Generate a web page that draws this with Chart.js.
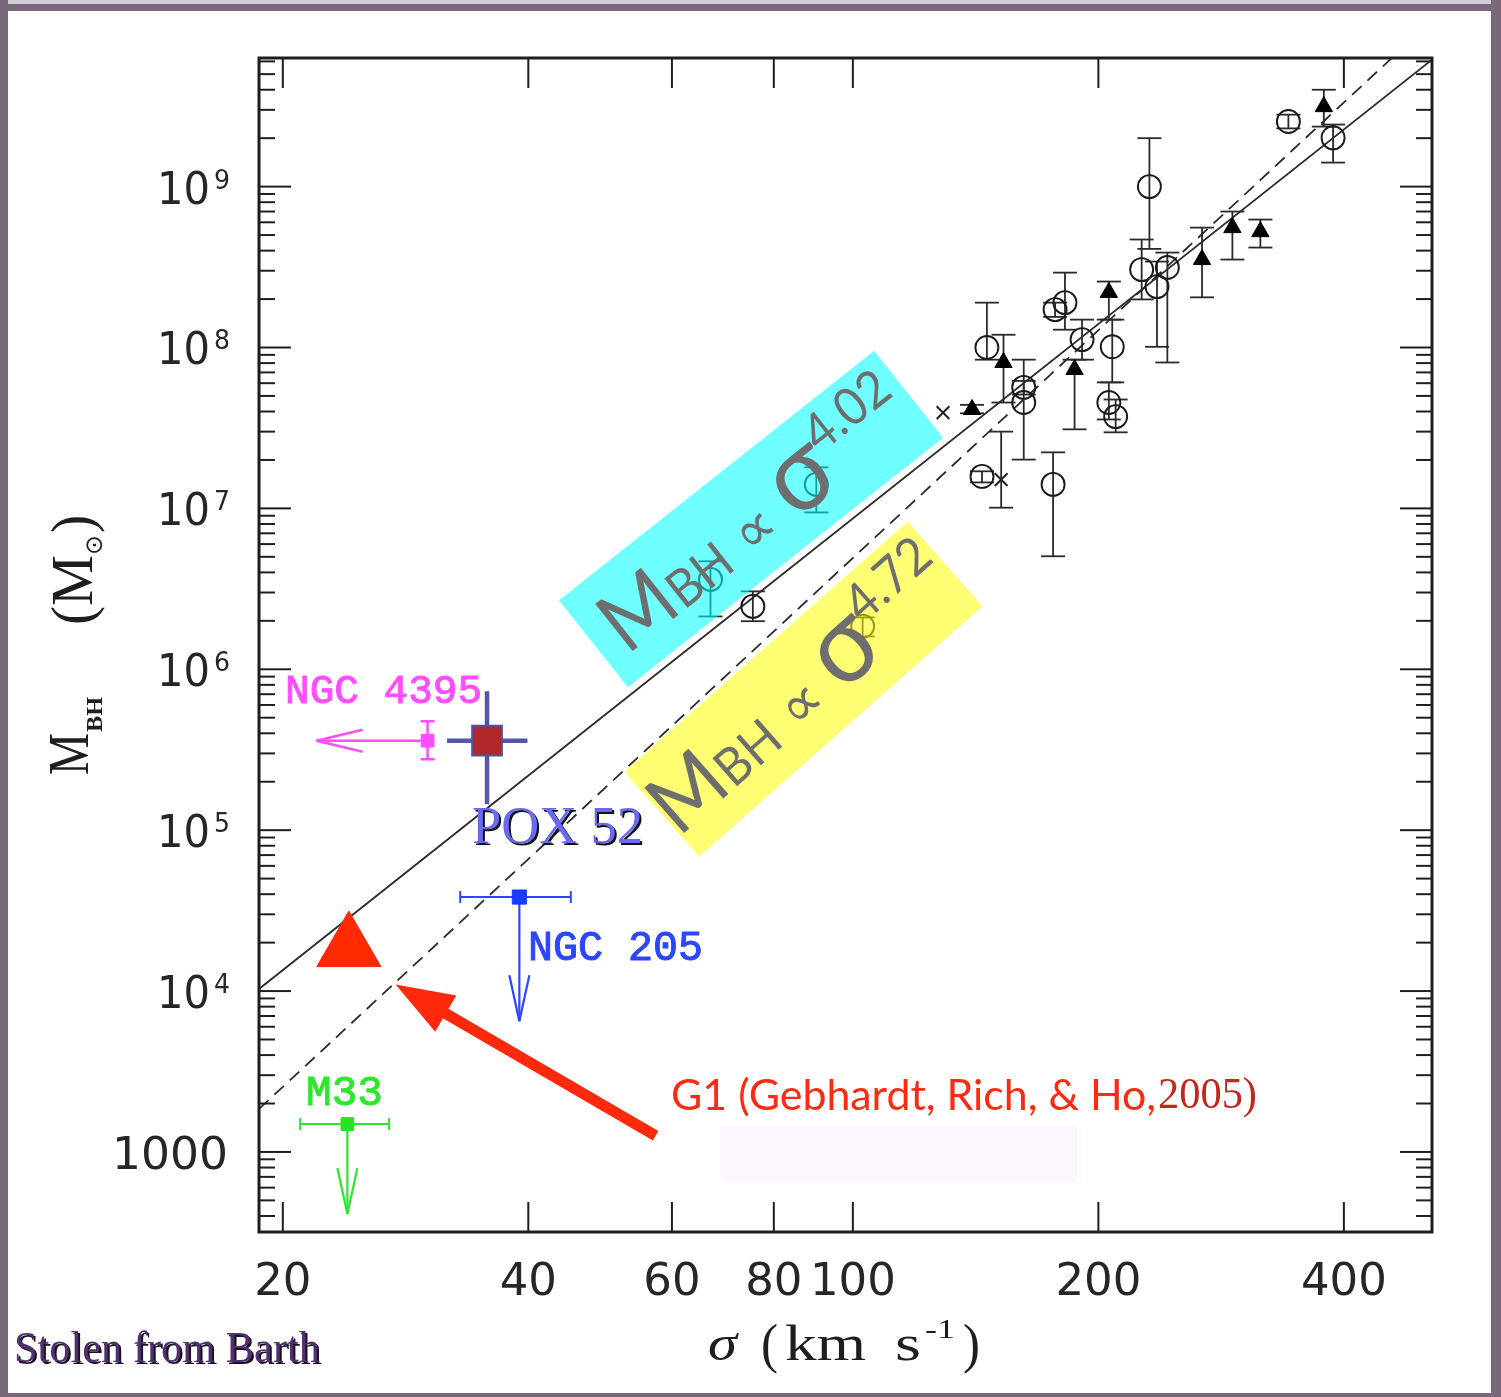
<!DOCTYPE html>
<html lang="en">
<head>
<meta charset="UTF-8">
<title>M-sigma relation</title>
<script src="https://cdn.jsdelivr.net/npm/chart.js@4.4.1/dist/chart.umd.min.js"></script>
<style>
  html, body { margin: 0; padding: 0; background: #fff; }
  canvas { display: block; }
</style>
</head>
<body>
<canvas id="msigma" width="1501" height="1397"></canvas>
<script>
// sigma in km/s, black hole mass in solar masses

// open circles
const circSigma = [342, 388, 231, 226, 236, 243, 182, 177, 191, 146, 208, 162, 162, 206, 210, 144, 176, 90.2, 66.9, 75.4, 102.8];
const circMass  = [2.54e9, 2.01e9, 1.0e9, 3.05e8, 2.39e8, 3.14e8, 1.9e8, 1.72e8, 1.12e8, 1.0e8, 1.01e8, 5.65e7, 4.55e7, 4.55e7, 3.72e7, 1.58e7, 1.41e7, 1.41e7, 3.62e6, 2.46e6, 1.85e6];
const circLo    = [2.3e9, 1.41e9, 4.1e8, 1.99e8, 1.01e8, 8.07e7, 1.29e8, 1.55e8, 8.4e7, 8.4e7, 6.07e7, 5.1e7, 2.01e7, 3.57e7, 2.97e7, 1.45e7, 5.04e6, 9.44e6, 2.13e6, 1.99e6, 1.6e6];
const circHi    = [2.8e9, 2.43e9, 2.0e9, 4.69e8, 3.42e8, 3.89e8, 2.92e8, 1.9e8, 1.49e8, 1.9e8, 1.49e8, 6.2e7, 8.4e7, 6.07e7, 4.75e7, 1.7e7, 2.23e7, 1.8e7, 4.69e6, 3.05e6, 2.1e6];

// filled triangles
const triSigma = [378, 292, 316, 268, 206, 153, 187, 140];
const triMass  = [3.14e9, 5.56e8, 5.25e8, 3.52e8, 2.2e8, 8.07e7, 7.3e7, 4.12e7];
const triLo    = [2.36e9, 3.52e8, 4.18e8, 2.05e8, 1.49e8, 4.55e7, 3.1e7, 3.9e7];
const triHi    = [4.0e9, 7.0e8, 6.24e8, 5.56e8, 2.57e8, 1.2e8, 8.4e7, 4.4e7];

// crosses
const crossSigma = [129, 152];
const crossMass  = [3.94e7, 1.51e7];
const crossLo    = [3.94e7, 1.01e7];
const crossHi    = [3.94e7, 3.0e7];

// fit lines (end points)
const solidSigma = [18.7, 513];
const solidMass  = [1.03e4, 6.15e9];
const dashSigma  = [18.7, 458];
const dashMass   = [1850, 6.3e9];

// low-mass objects
const ngc4395 = { sigma: 30.1, mass: 3.6e5, massLo: 2.76e5, massHi: 4.75e5, sigmaLimit: 22.0 };
const pox52   = { sigma: 35.6, mass: 3.6e5, sigmaLo: 31.8, sigmaHi: 39.9, massLo: 1.45e5, massHi: 7.3e5 };
const ngc205  = { sigma: 39.0, mass: 3.84e4, sigmaLo: 33.0, sigmaHi: 45.1, massLimit: 6.5e3 };
const m33     = { sigma: 24.0, mass: 1.49e3, sigmaLo: 21.0, sigmaHi: 27.0, massLimit: 412 };
const g1      = { sigma: 24.1, mass: 1.85e4 };
const g1PointerSigma = [57.3, 27.5];
const g1PointerMass  = [1.26e3, 1.10e4];

// axes
const sigmaTicks = [20, 40, 60, 80, 100, 200, 400];
const massMajor  = [1e3, 1e4, 1e5, 1e6, 1e7, 1e8, 1e9];
const massBase   = ['1000', '10', '10', '10', '10', '10', '10'];
const massExp    = ['', '4', '5', '6', '7', '8', '9'];

function pts(xs, ys) { return xs.map((x, i) => ({ x: x, y: ys[i] })); }

function fitText(ctx, str, x, y, w, font, color, stroke) {
  ctx.save();
  ctx.font = font;
  ctx.fillStyle = color;
  ctx.textBaseline = 'alphabetic';
  const m = ctx.measureText(str).width;
  ctx.translate(x, y);
  ctx.scale(w / m, 1);
  ctx.fillText(str, 0, 0);
  if (stroke) {
    ctx.strokeStyle = color;
    ctx.lineWidth = stroke;
    ctx.strokeText(str, 0, 0);
  }
  ctx.restore();
}

function seg(ctx, x1, y1, x2, y2) {
  ctx.beginPath(); ctx.moveTo(x1, y1); ctx.lineTo(x2, y2); ctx.stroke();
}

function vBars(ctx, xs, ys, sig, lo, hi, cap) {
  sig.forEach((s, i) => {
    if (lo[i] === hi[i]) return;
    const x = xs.getPixelForValue(s);
    const a = ys.getPixelForValue(lo[i]), b = ys.getPixelForValue(hi[i]);
    seg(ctx, x, a, x, b);
    seg(ctx, x - cap, a, x + cap, a);
    seg(ctx, x - cap, b, x + cap, b);
  });
}

// rotated highlight with the power-law label
function tagBox(ctx, b) {
  ctx.save();
  ctx.translate(b.cx, b.cy);
  ctx.rotate(b.angle);
  ctx.fillStyle = b.fill;
  ctx.fillRect(-b.len / 2, -b.wid / 2, b.len, b.wid);
  const parts = [
    { t: 'M', f: '84px Lato', dy: 0 },
    { t: 'BH', f: '52px Lato', dy: 0 },
    { t: ' \u221D ', f: '60px "DejaVu Sans"', dy: 0 },
    { t: '\u03C3', f: '108px Lato', dy: 0 },
    { t: b.expo, f: '52px Lato', dy: -38 }
  ];
  let total = 0;
  parts.forEach(p => { ctx.font = p.f; p.w = ctx.measureText(p.t).width; total += p.w; });
  const k = (b.x1 - b.x0) / total;
  ctx.translate(b.x0, b.base);
  ctx.scale(k, 1);
  ctx.fillStyle = '#6e6e6e';
  let x = 0;
  parts.forEach(p => { ctx.font = p.f; ctx.fillText(p.t, x, p.dy); x += p.w; });
  ctx.restore();
}

const drawing = {
  id: 'drawing',
  beforeDraw(chart) {
    const ctx = chart.ctx, W = chart.width, H = chart.height;
    ctx.save();
    ctx.fillStyle = '#ffffff';
    ctx.fillRect(0, 0, W, H);
    ctx.fillStyle = '#d2ced6';
    ctx.fillRect(0, 0, W, 4);
    ctx.fillStyle = '#786879';
    ctx.fillRect(0, 4, W, 7);
    ctx.fillRect(0, 0, 8, H);
    ctx.fillRect(W - 10, 0, 10, H);
    ctx.fillRect(0, H - 4, W, 4);
    // faint panel under the citation
    ctx.fillStyle = '#fcf7fc';
    ctx.fillRect(721, 1126, 356, 56);
    ctx.restore();
  },
  beforeDatasetsDraw(chart) {
    const ctx = chart.ctx, xs = chart.scales.x, ys = chart.scales.y, ca = chart.chartArea;
    ctx.save();
    ctx.beginPath();
    ctx.rect(ca.left, ca.top, ca.right - ca.left, ca.bottom - ca.top);
    ctx.clip();
    ctx.strokeStyle = '#2a2a2a';
    ctx.lineWidth = 1.8;
    vBars(ctx, xs, ys, circSigma, circLo, circHi, 12);
    vBars(ctx, xs, ys, triSigma, triLo, triHi, 12);
    vBars(ctx, xs, ys, crossSigma, crossLo, crossHi, 12);

    // NGC 4395: mass bar and upper limit on sigma
    let x = xs.getPixelForValue(ngc4395.sigma), y = ys.getPixelForValue(ngc4395.mass);
    ctx.strokeStyle = '#ff4dff';
    ctx.lineWidth = 2.5;
    vBars(ctx, xs, ys, [ngc4395.sigma], [ngc4395.massLo], [ngc4395.massHi], 7);
    let tip = xs.getPixelForValue(ngc4395.sigmaLimit);
    seg(ctx, x, y, tip, y);
    seg(ctx, tip, y, tip + 46, y - 11);
    seg(ctx, tip, y, tip + 46, y + 11);

    // POX 52 cross
    x = xs.getPixelForValue(pox52.sigma); y = ys.getPixelForValue(pox52.mass);
    ctx.strokeStyle = '#5656a8';
    ctx.lineWidth = 4.5;
    seg(ctx, xs.getPixelForValue(pox52.sigmaLo), y, xs.getPixelForValue(pox52.sigmaHi), y);
    seg(ctx, x, ys.getPixelForValue(pox52.massLo), x, ys.getPixelForValue(pox52.massHi));

    // NGC 205 and M33: sigma bars with upper limits on mass
    [[ngc205, '#2a46ff'], [m33, '#2ee62e']].forEach(([o, c]) => {
      const px = xs.getPixelForValue(o.sigma), py = ys.getPixelForValue(o.mass);
      const l = xs.getPixelForValue(o.sigmaLo), r = xs.getPixelForValue(o.sigmaHi);
      ctx.strokeStyle = c;
      ctx.lineWidth = 2;
      seg(ctx, l, py, r, py);
      seg(ctx, l, py - 6, l, py + 6);
      seg(ctx, r, py - 6, r, py + 6);
      const t = ys.getPixelForValue(o.massLimit);
      ctx.lineWidth = 2.2;
      seg(ctx, px, py, px, t);
      seg(ctx, px, t, px - 10, t - 46);
      seg(ctx, px, t, px + 10, t - 46);
    });
    ctx.restore();
  },
  afterDatasetsDraw(chart) {
    const ctx = chart.ctx, xs = chart.scales.x, ys = chart.scales.y, ca = chart.chartArea;
    ctx.save();

    // G1 pointer arrow
    const ax = xs.getPixelForValue(g1PointerSigma[0]), ay = ys.getPixelForValue(g1PointerMass[0]);
    const bx = xs.getPixelForValue(g1PointerSigma[1]), by = ys.getPixelForValue(g1PointerMass[1]);
    const ang = Math.atan2(by - ay, bx - ax);
    ctx.strokeStyle = '#ff2a0e';
    ctx.fillStyle = '#ff2a0e';
    ctx.lineWidth = 11;
    ctx.lineCap = 'butt';
    seg(ctx, ax, ay, bx - 40 * Math.cos(ang), by - 40 * Math.sin(ang));
    ctx.beginPath();
    ctx.moveTo(bx, by);
    ctx.lineTo(bx - 58 * Math.cos(ang) + 21 * Math.sin(ang), by - 58 * Math.sin(ang) - 21 * Math.cos(ang));
    ctx.lineTo(bx - 58 * Math.cos(ang) - 21 * Math.sin(ang), by - 58 * Math.sin(ang) + 21 * Math.cos(ang));
    ctx.closePath();
    ctx.fill();

    // highlighted power laws
    tagBox(ctx, { cx: 751, cy: 519, len: 402, wid: 111, angle: -0.670, fill: 'rgba(0,255,255,0.56)',
                  expo: '4.02', x0: -182, x1: 190, base: 30 });
    tagBox(ctx, { cx: 803.5, cy: 689, len: 378, wid: 113, angle: -0.7234, fill: 'rgba(255,255,0,0.55)',
                  expo: '4.72', x0: -192, x1: 184, base: 29 });

    // frame
    ctx.strokeStyle = '#1e1e1e';
    ctx.lineWidth = 3;
    ctx.strokeRect(ca.left, ca.top, ca.right - ca.left, ca.bottom - ca.top);
    ctx.lineWidth = 2;
    sigmaTicks.forEach(s => {
      const x = xs.getPixelForValue(s);
      seg(ctx, x, ca.bottom, x, ca.bottom - 30);
      seg(ctx, x, ca.top, x, ca.top + 30);
    });
    for (let d = 2; d <= 9; d++) {
      for (let k = 1; k <= 9; k++) {
        const v = k * Math.pow(10, d);
        if (v < ys.min || v > ys.max) continue;
        const y = ys.getPixelForValue(v), len = k === 1 ? 32 : 16;
        seg(ctx, ca.left, y, ca.left + len, y);
        seg(ctx, ca.right, y, ca.right - len, y);
      }
    }

    // tick labels
    ctx.fillStyle = '#1e1e1e';
    ctx.textBaseline = 'alphabetic';
    massMajor.forEach((v, i) => {
      const y = ys.getPixelForValue(v);
      if (massExp[i] === '') {
        fitText(ctx, massBase[i], 112, y + 17, 116, '45px "DejaVu Sans"', '#262626');
      } else {
        fitText(ctx, massExp[i], 214, y + 2, 16, '27px "DejaVu Sans"', '#262626');
        fitText(ctx, massBase[i], 157, y + 17, 53, '45px "DejaVu Sans"', '#262626');
      }
    });
    ctx.font = '45px "DejaVu Sans"';
    ctx.fillStyle = '#262626';
    ctx.textAlign = 'center';
    sigmaTicks.forEach(s => {
      ctx.fillText(String(s), xs.getPixelForValue(s), 1295);
    });
    ctx.textAlign = 'left';

    // axis titles
    fitText(ctx, '\u03C3', 708, 1360, 29, 'italic 50px "Liberation Serif"', '#1e1e1e');
    fitText(ctx, '(', 761, 1362, 17, '54px "Liberation Serif"', '#1e1e1e');
    fitText(ctx, 'km', 785, 1360, 81, '50px "Liberation Serif"', '#1e1e1e');
    fitText(ctx, 's', 895, 1360, 26, '50px "Liberation Serif"', '#1e1e1e');
    fitText(ctx, '-1', 925, 1338, 30, '28px "Liberation Serif"', '#1e1e1e');
    fitText(ctx, ')', 963, 1362, 17, '54px "Liberation Serif"', '#1e1e1e');

    ctx.save();
    ctx.translate(88, 775);
    ctx.rotate(-Math.PI / 2);
    fitText(ctx, 'M', 0, 0, 42, '56px "Liberation Serif"', '#1e1e1e');
    fitText(ctx, 'BH', 43, 14, 35, 'bold 24px "Liberation Serif"', '#1e1e1e');
    fitText(ctx, '(M', 150, 4, 70, '60px "Liberation Serif"', '#1e1e1e');
    fitText(ctx, '\u2299', 220, 14, 20, '24px "DejaVu Sans"', '#1e1e1e');
    fitText(ctx, ')', 242, 4, 18, '60px "Liberation Serif"', '#1e1e1e');
    ctx.restore();

    // object labels
    fitText(ctx, 'NGC 4395', 285, 703, 197, '41px "Liberation Mono"', '#ff4dff', 1);
    fitText(ctx, 'NGC 205', 528, 960, 175, '42px "Liberation Mono"', '#2a46ff', 1);
    fitText(ctx, 'M33', 306, 1105, 77, '42px "Liberation Mono"', '#2ee62e', 1);
    fitText(ctx, 'POX 52', 474, 845, 171, '52px "Liberation Serif"', '#111111');
    fitText(ctx, 'POX 52', 472, 843, 171, '52px "Liberation Serif"', '#6a6af0');
    fitText(ctx, 'G1 (Gebhardt, Rich, & Ho,', 671, 1110, 485, '42px Lato', '#ff2a10');
    fitText(ctx, '2005)', 1158, 1108, 99, '44px "Liberation Serif"', '#c4261a');

    // credit line
    fitText(ctx, 'Stolen from Barth', 16, 1364, 306, '44px "Liberation Serif"', '#1a1020');
    fitText(ctx, 'Stolen from Barth', 14, 1362, 306, '44px "Liberation Serif"', '#50306e');
    ctx.restore();
  }
};

new Chart(document.getElementById('msigma'), {
  type: 'scatter',
  data: {
    datasets: [
      { data: [{ x: pox52.sigma, y: pox52.mass }], pointStyle: 'rect', pointRadius: 21,
        backgroundColor: '#b02828', borderColor: '#5050a0', borderWidth: 2 },
      { data: [{ x: ngc4395.sigma, y: ngc4395.mass }], pointStyle: 'rect', pointRadius: 9,
        backgroundColor: '#ff4dff', borderColor: '#ff4dff', borderWidth: 1 },
      { data: [{ x: ngc205.sigma, y: ngc205.mass }], pointStyle: 'rect', pointRadius: 10,
        backgroundColor: '#1a3cff', borderColor: '#1a3cff', borderWidth: 1 },
      { data: [{ x: m33.sigma, y: m33.mass }], pointStyle: 'rect', pointRadius: 9,
        backgroundColor: '#22e622', borderColor: '#22e622', borderWidth: 1 },
      { data: [{ x: g1.sigma, y: g1.mass }], pointStyle: 'triangle', pointRadius: 37,
        backgroundColor: '#ff2a00', borderColor: '#ff2a00', borderWidth: 1 },
      { data: pts(circSigma, circMass), pointStyle: 'circle', pointRadius: 11.5,
        backgroundColor: 'rgba(0,0,0,0)', borderColor: '#1a1a1a', borderWidth: 1.9 },
      { data: pts(triSigma, triMass), pointStyle: 'triangle', pointRadius: 10,
        backgroundColor: '#000', borderColor: '#000', borderWidth: 1 },
      { data: pts(crossSigma, crossMass), pointStyle: 'crossRot', pointRadius: 9,
        borderColor: '#222', borderWidth: 2 },
      { data: pts(solidSigma, solidMass), showLine: true, pointRadius: 0,
        borderColor: '#2a2a2a', borderWidth: 1.8 },
      { data: pts(dashSigma, dashMass), showLine: true, pointRadius: 0,
        borderColor: '#2a2a2a', borderWidth: 1.8, borderDash: [13, 8] }
    ]
  },
  options: {
    responsive: false,
    animation: false,
    events: [],
    devicePixelRatio: 1,
    layout: { padding: { left: 259, right: 69, top: 58, bottom: 165 } },
    plugins: { legend: { display: false }, tooltip: { enabled: false } },
    scales: {
      x: { type: 'logarithmic', min: 18.7, max: 513, bounds: 'data', display: false },
      y: { type: 'logarithmic', min: 318, max: 6.3e9, bounds: 'data', display: false }
    }
  },
  plugins: [drawing]
});
</script>
</body>
</html>
